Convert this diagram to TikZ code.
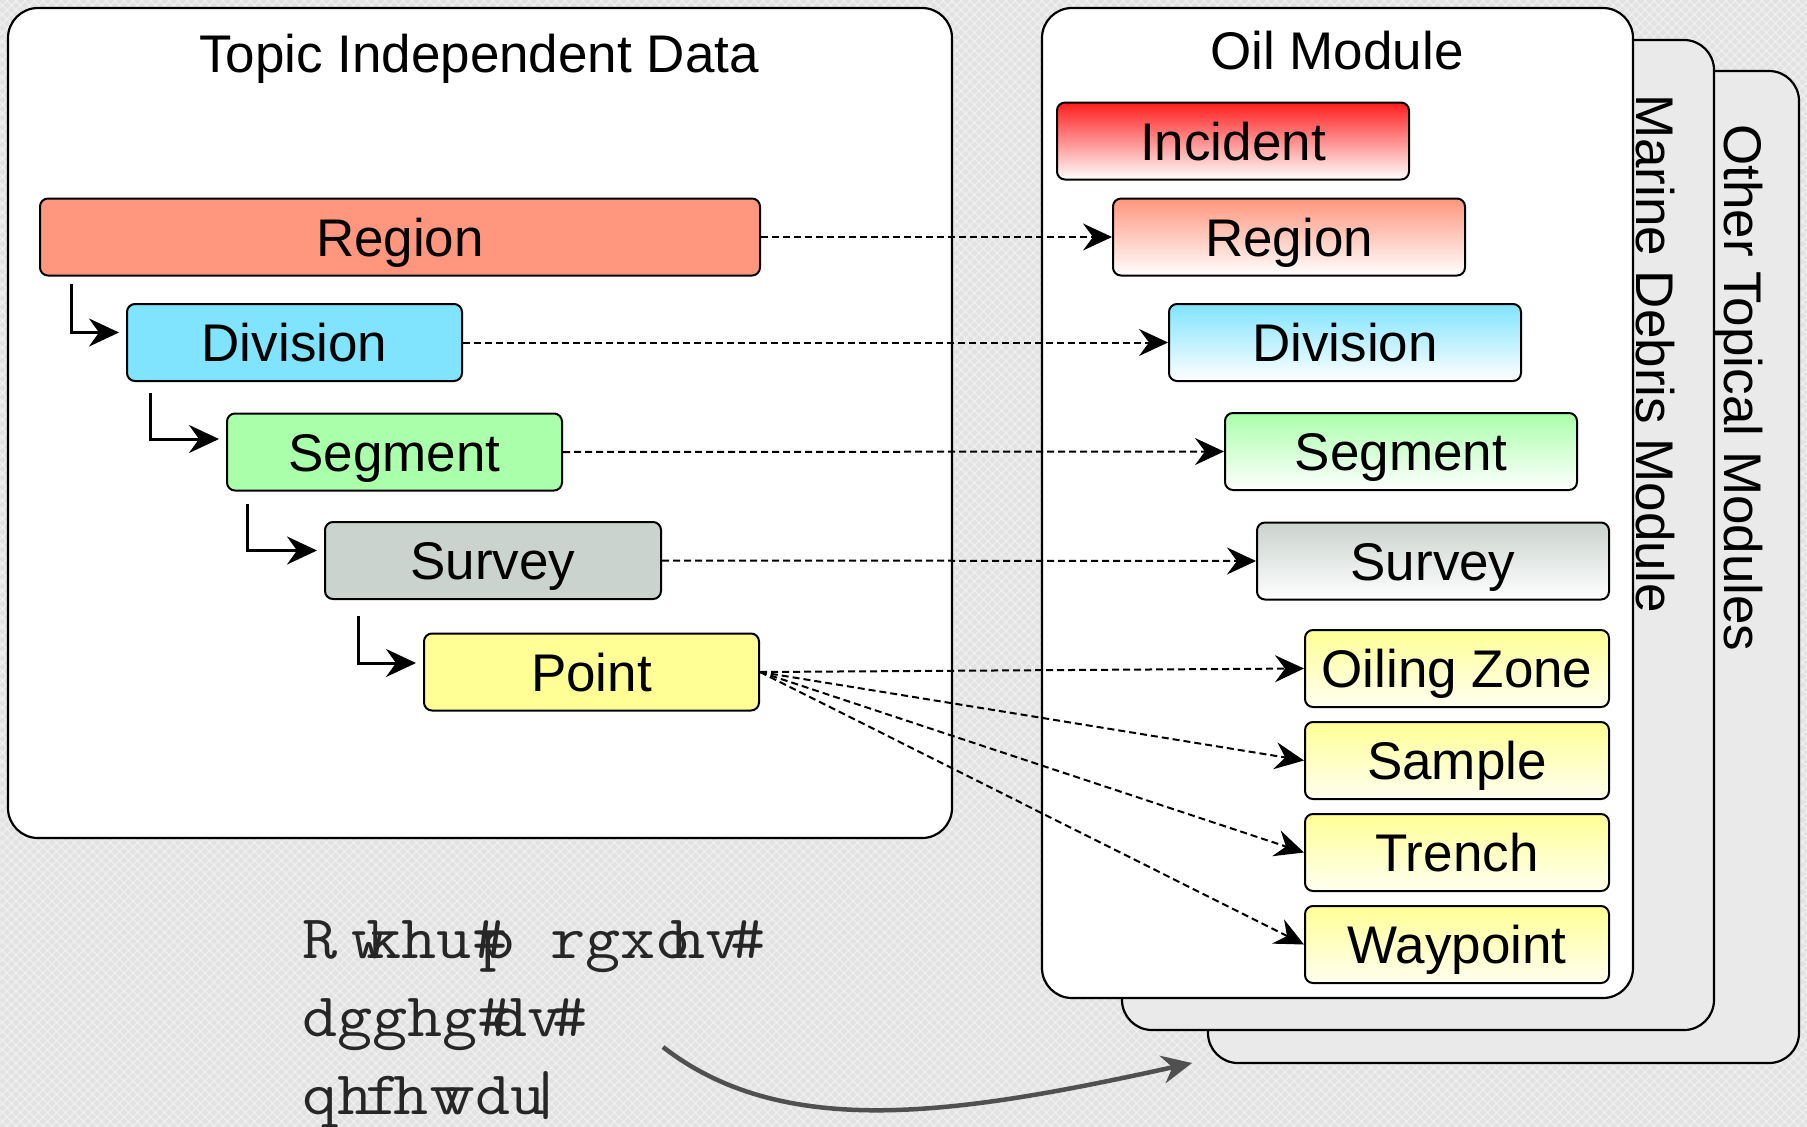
\documentclass[tikz,border=0pt]{standalone}
\usepackage{fontspec}
\setmainfont{Liberation Sans}
\usepackage{graphicx}
\usetikzlibrary{arrows.meta,calc}

\definecolor{bgcol}{RGB}{226,226,226}
\definecolor{stackcol}{RGB}{234,234,234}
\definecolor{regcol}{RGB}{255,150,125}
\definecolor{divcol}{RGB}{128,228,255}
\definecolor{segcol}{RGB}{170,255,170}
\definecolor{surcol}{RGB}{202,211,206}
\definecolor{ptcol}{RGB}{255,255,150}
\definecolor{inccol}{RGB}{255,30,30}
\definecolor{arrowgray}{RGB}{80,80,80}

\begin{document}
\begin{tikzpicture}[x=1pt,y=-1pt,
  bigbox/.style={draw=black, line width=2.2pt, rounded corners=30pt, inner sep=0pt},
  card/.style={draw=black, line width=2pt, rounded corners=8pt, minimum height=77pt,
    inner sep=0pt, text height=38pt, text depth=0pt, font=\fontsize{53}{60}\selectfont},
  title/.style={anchor=base, inner sep=0pt, font=\fontsize{53}{60}\selectfont},
  sidetitle/.style={anchor=base west, inner sep=0pt, rotate=-90, font=\fontsize{53}{60}\selectfont},
  treearr/.style={line width=3pt, -{Stealth[length=30pt,width=28pt,inset=10pt]}},
  dasharr/.style={line width=2pt, dash pattern=on 7pt off 4pt,
    -{Stealth[length=29pt,width=27pt,inset=10pt]}},
  curvearr/.style={draw=arrowgray, line width=4.5pt,
    -{Stealth[length=30pt,width=28pt,inset=10pt]}},
  notetext/.style={anchor=base west, inner sep=0pt, text=black!85,
    font=\ttfamily\fontsize{62}{66}\selectfont}
]
\useasboundingbox (0,0) rectangle (1807,1127);

% textured backdrop
\fill[bgcol] (0,0) rectangle (1807,1127);
\begin{scope}
  \clip (0,0) rectangle (1807,1127);
  \foreach \i in {-1200,-1191,...,1810} {
    \draw[white, opacity=0.35, line width=1.5pt] (\i,0) -- ++(1127,1127);
    \draw[white, opacity=0.35, line width=1.5pt] (\i+1127,0) -- ++(-1127,1127);
  }
\end{scope}

% container panels
\node[bigbox, fill=white, minimum width=944pt, minimum height=830pt] (tid) at (480,423) {};
\node[title] (tidtitle) at (479,72) {Topic Independent Data};

\node[bigbox, fill=stackcol, minimum width=591pt, minimum height=992pt] (other) at (1503.5,567) {};
\node[bigbox, fill=stackcol, minimum width=592pt, minimum height=990pt] (marine) at (1418,535) {};
\node[sidetitle] (othertitle) at (1724,124) {Other Topical Modules};
\node[sidetitle] (marinetitle) at (1636,94) {Marine Debris Module};
\node[bigbox, fill=white, minimum width=591pt, minimum height=990pt] (oilmod) at (1337.5,503) {};
\node[title] (oiltitle) at (1337,69) {Oil Module};

% topic independent hierarchy
\node[card, fill=regcol, minimum width=720pt] (regL) at (400,237) {Region};
\node[card, fill=divcol, minimum width=335pt] (divL) at (294.5,342.5) {Division};
\node[card, fill=segcol, minimum width=335pt] (segL) at (394.5,452) {Segment};
\node[card, fill=surcol, minimum width=336pt] (surL) at (493,560.5) {Survey};
\node[card, fill=ptcol, minimum width=335pt] (ptL) at (591.5,672) {Point};

\draw[treearr] ($(regL.south west)+(32,7)$) |- ($(divL.west)+(-7,-10)$);
\draw[treearr] ($(divL.south west)+(24,11)$) |- ($(segL.west)+(-7,-13)$);
\draw[treearr] ($(segL.south west)+(21,12)$) |- ($(surL.west)+(-7,-10)$);
\draw[treearr] ($(surL.south west)+(34,16)$) |- ($(ptL.west)+(-7,-9)$);

% oil module tables
\node[card, top color=inccol, bottom color=white, minimum width=352pt] (inc) at (1233,141) {Incident};
\node[card, top color=regcol, bottom color=white, minimum width=352pt] (regR) at (1289,237) {Region};
\node[card, top color=divcol, bottom color=white, minimum width=352pt] (divR) at (1345,342.5) {Division};
\node[card, top color=segcol, bottom color=white, minimum width=352pt] (segR) at (1401,451.5) {Segment};
\node[card, top color=surcol, bottom color=white, minimum width=352pt] (surR) at (1433,561) {Survey};
\node[card, top color=ptcol, bottom color=yellow!6!white, minimum width=304pt] (oilz) at (1457,668.5) {Oiling Zone};
\node[card, top color=ptcol, bottom color=yellow!6!white, minimum width=304pt] (smp) at (1457,760.5) {Sample};
\node[card, top color=ptcol, bottom color=yellow!6!white, minimum width=304pt] (trn) at (1457,852.5) {Trench};
\node[card, top color=ptcol, bottom color=yellow!6!white, minimum width=304pt] (wpt) at (1457,944.5) {Waypoint};

% links into the module
\draw[dasharr] (regL.east) -- (regR.west);
\draw[dasharr] (divL.east) -- (divR.west);
\draw[dasharr] (segL.east) -- (segR.west);
\draw[dasharr] (surL.east) -- (surR.west);
\draw[dasharr] (ptL.east) -- (oilz.west);
\draw[dasharr] (ptL.east) -- (smp.west);
\draw[dasharr] (ptL.east) -- (trn.west);
\draw[dasharr] (ptL.east) -- (wpt.west);

% note and its arrow
\node[notetext] (note1) at (302,958) {\scalebox{1.1}[1]{R\kern-.3em\ w\kern-.3em khu\#\kern-.4em p rgxo\kern-.3em hv\kern-.15em\#}};
\node[notetext] (note2) at (302,1036) {\scalebox{1.1}[1]{dgghg\#\kern-.3em dv\kern-.15em\#}};
\node[notetext] (note3) at (302,1114) {\scalebox{1.1}[1]{qh\kern-.1em f\kern-.1em hv\kern-.35em vdu\kern-.25em|}};

\coordinate (cstart) at (663,1047);
\coordinate (cend) at (1192,1063);
\draw[curvearr] (cstart) .. controls (785,1142) and (960,1114) .. (cend);
\end{tikzpicture}
\end{document}
